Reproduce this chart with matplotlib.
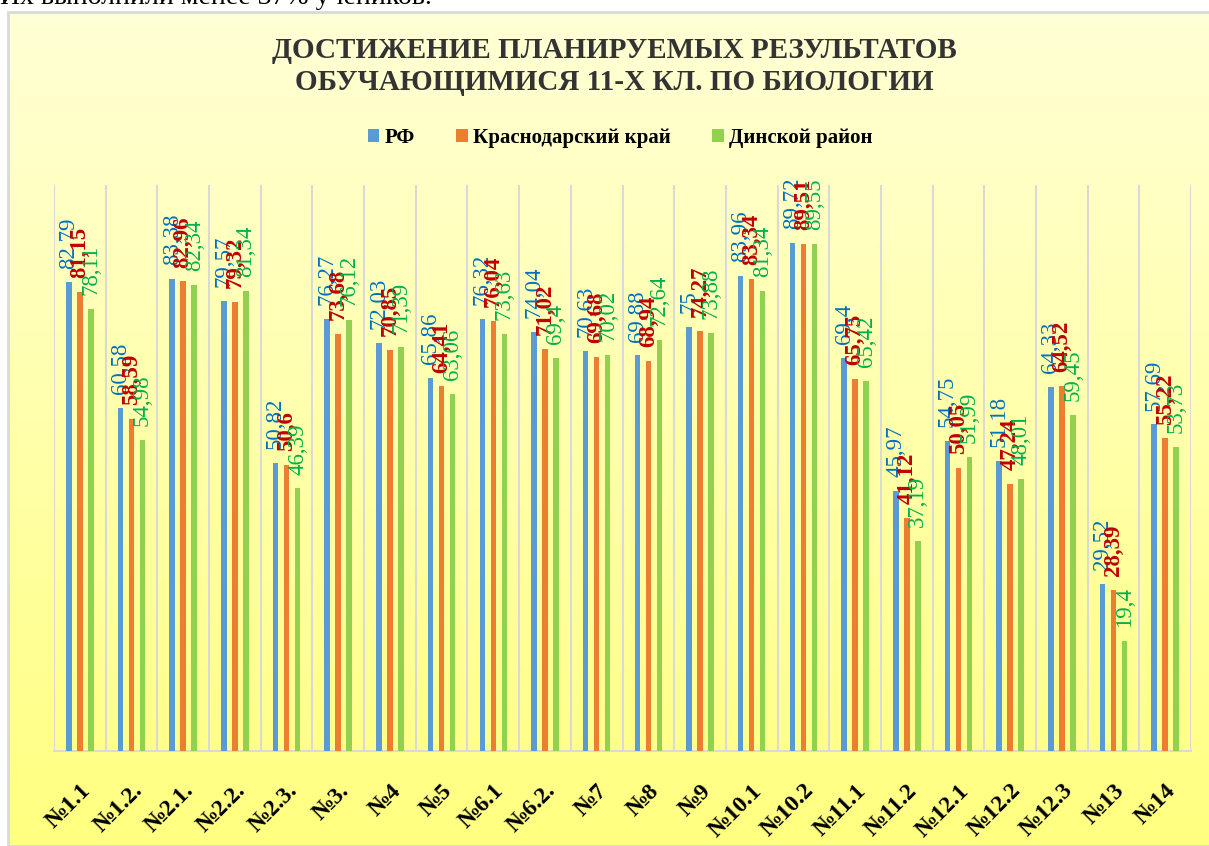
import numpy as np
import matplotlib
matplotlib.use("Agg")
import matplotlib.pyplot as plt
from matplotlib.patches import Patch, Rectangle

# -----------------------------
# DATA
# -----------------------------
categories = ["№1.1", "№1.2.", "№2.1.", "№2.2.", "№2.3.", "№3.", "№4", "№5",
              "№6.1", "№6.2.", "№7", "№8", "№9", "№10.1", "№10.2", "№11.1",
              "№11.2", "№12.1", "№12.2", "№12.3", "№13", "№14"]

rf = [82.79, 60.58, 83.38, 79.57, 50.82, 76.27, 72.03, 65.86, 76.32, 74.04, 70.63,
      69.88, 75, 83.96, 89.72, 69.4, 45.97, 54.75, 51.18, 64.33, 29.52, 57.69]
krai = [81.15, 58.59, 82.96, 79.32, 50.6, 73.68, 70.85, 64.41, 76.04, 71.02, 69.68,
        68.94, 74.27, 83.34, 89.51, 65.75, 41.12, 50.05, 47.24, 64.52, 28.39, 55.22]
rayon = [78.11, 54.98, 82.34, 81.34, 46.39, 76.12, 71.39, 63.06, 73.63, 69.4, 70.02,
         72.64, 73.88, 81.34, 89.55, 65.42, 37.19, 51.99, 48.01, 59.45, 19.4, 53.73]

series_names = ["РФ", "Краснодарский край", "Динской район"]
bar_colors = ["#5B9BD5", "#ED7D31", "#92D050"]
label_colors = ["#0070C0", "#C00000", "#00B050"]
label_weights = ["normal", "bold", "normal"]

title_lines = ["ДОСТИЖЕНИЕ ПЛАНИРУЕМЫХ РЕЗУЛЬТАТОВ", "ОБУЧАЮЩИМИСЯ 11-Х КЛ. ПО БИОЛОГИИ"]
top_text = "Их выполнили менее 37% учеников."

SERIF = ["Liberation Serif", "DejaVu Serif"]
W, H = 1209, 846


def fmt(v):
    s = ("%.2f" % v).rstrip("0").rstrip(".")
    return s.replace(".", ",")


# -----------------------------
# FIGURE / BACKGROUND
# -----------------------------
fig = plt.figure(figsize=(W / 100, H / 100), dpi=100)
fig.patch.set_facecolor("white")

bg = fig.add_axes([8 / W, 0, 1 - 8 / W, 1 - 12 / H])
top_c = np.array([255, 255, 214]) / 255
bot_c = np.array([255, 255, 128]) / 255
t = np.linspace(0, 1, 256)[:, None]
grad = top_c[None, :] * (1 - t) + bot_c[None, :] * t
bg.imshow(grad[:, None, :], aspect="auto", extent=[0, 1, 0, 1])
bg.set_xlim(0, 1)
bg.set_ylim(0, 1)
bg.axis("off")
bg.add_patch(Rectangle((0, 0), 1.2, 1, transform=bg.transAxes, fill=False,
                       edgecolor="#D9D9D9", lw=2, clip_on=False))

fig.text(0, 1 - 4 / H, top_text, family=SERIF, fontsize=20, va="baseline", ha="left")

# -----------------------------
# BARS
# -----------------------------
ax = fig.add_axes([54 / W, (H - 751) / H, (1191 - 54) / W, (751 - 185) / H])
ax.set_facecolor("none")
x = np.arange(len(categories))
bw = 0.107
offsets = [-0.213, 0, 0.213]

for k, vals in enumerate([rf, krai, rayon]):
    ax.bar(x + offsets[k], vals, width=bw, color=bar_colors[k], zorder=3)
    for xi, v in zip(x, vals):
        ax.annotate(fmt(v), (xi + offsets[k], v), xytext=(0, 10),
                    textcoords="offset points", rotation=90, ha="center",
                    va="bottom", color=label_colors[k], fontsize=16.5,
                    family=SERIF, weight=label_weights[k], zorder=4)

for b in np.arange(-0.5, len(categories), 1):
    ax.axvline(b, color="#D9D9D9", lw=1.5, zorder=1)

ax.set_xlim(-0.5, len(categories) - 0.5)
ax.set_ylim(0, 100)
ax.set_yticks([])
for s in ["top", "right", "left"]:
    ax.spines[s].set_visible(False)
ax.spines["bottom"].set_color("#D9D9D9")
ax.spines["bottom"].set_linewidth(1.5)
ax.set_xticks(x)
ax.set_xticklabels(categories, rotation=45, ha="right", va="top",
                   rotation_mode="anchor", family=SERIF, weight="bold", fontsize=17)
ax.tick_params(axis="x", length=0, pad=21)

# -----------------------------
# TITLE / LEGEND
# -----------------------------
fig.text(614 / W, 1 - 50 / H, title_lines[0], ha="center", va="center",
         family=SERIF, weight="bold", fontsize=21, color="#333333")
fig.text(614 / W, 1 - 82 / H, title_lines[1], ha="center", va="center",
         family=SERIF, weight="bold", fontsize=21, color="#333333")

handles = [Patch(facecolor=c, edgecolor="none") for c in bar_colors]
fig.legend(handles, series_names, loc="center", bbox_to_anchor=(620 / W, 1 - 138 / H),
           ncol=3, frameon=False, prop={"family": SERIF, "weight": "bold", "size": 15},
           handlelength=0.55, handleheight=0.55, handletextpad=0.25, columnspacing=2.0)

fig.savefig("out.png", dpi=100)
